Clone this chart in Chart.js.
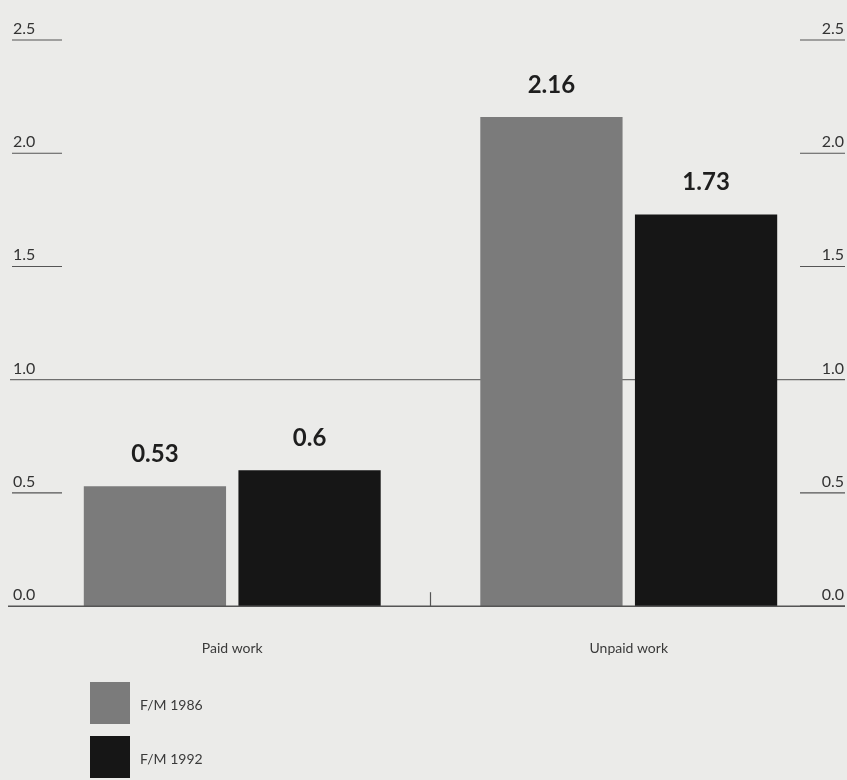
<!DOCTYPE html>
<html>
<head>
<meta charset="utf-8">
<script src="https://cdn.jsdelivr.net/npm/chart.js@4.4.1/dist/chart.umd.min.js"></script>
<style>
  html, body { margin: 0; padding: 0; background: #ebebe9; }
  #wrap { width: 847px; height: 780px; position: relative; }
</style>
</head>
<body>
<div id="wrap"><canvas id="c" width="847" height="780"></canvas></div>
<script>
const categories = ["Paid work", "Unpaid work"];
const seriesNames = ["F/M 1986", "F/M 1992"];
const values1986 = [0.53, 2.16];
const values1992 = [0.6, 1.73];
const valueLabels1986 = ["0.53", "2.16"];
const valueLabels1992 = ["0.6", "1.73"];
const tickValues = [0.0, 0.5, 1.0, 1.5, 2.0, 2.5];
const tickLabels = ["0.0", "0.5", "1.0", "1.5", "2.0", "2.5"];
const referenceValue = 1.0;

const colors = ["#7b7b7b", "#161616"];
const FONT = "Lato, 'Open Sans', sans-serif";

const decor = {
  id: "decor",
  beforeDatasetsDraw(chart) {
    const ctx = chart.ctx;
    const y = chart.scales.y;
    const py = y.getPixelForValue(referenceValue);
    ctx.save();
    ctx.strokeStyle = "#6e6e6e";
    ctx.lineWidth = 1.2;
    ctx.beginPath();
    ctx.moveTo(10, py);
    ctx.lineTo(800, py);
    ctx.stroke();
    ctx.restore();
  },
  afterDatasetsDraw(chart) {
    const ctx = chart.ctx;
    const x = chart.scales.x;
    const y = chart.scales.y;
    const base = y.getPixelForValue(0);
    ctx.save();
    // baseline
    ctx.strokeStyle = "#555";
    ctx.lineWidth = 1.5;
    ctx.beginPath();
    ctx.moveTo(8, base);
    ctx.lineTo(845, base);
    ctx.stroke();
    // divider tick between categories
    const mid = (x.getPixelForValue(0) + x.getPixelForValue(1)) / 2;
    ctx.lineWidth = 1.2;
    ctx.beginPath();
    ctx.moveTo(mid, base);
    ctx.lineTo(mid, base - 14);
    ctx.stroke();

    // tick labels with underlines, left and right
    ctx.fillStyle = "#333";
    ctx.font = "16px " + FONT;
    ctx.textBaseline = "alphabetic";
    tickValues.forEach((v, i) => {
      const py = y.getPixelForValue(v);
      ctx.strokeStyle = "#555";
      ctx.lineWidth = 1.2;
      // left
      ctx.textAlign = "left";
      ctx.fillText(tickLabels[i], 13, py - 6);
      if (v !== 0 && v !== referenceValue) {
        ctx.beginPath();
        ctx.moveTo(12, py);
        ctx.lineTo(62, py);
        ctx.stroke();
      }
      // right
      ctx.textAlign = "right";
      ctx.fillText(tickLabels[i], 844, py - 6);
      ctx.beginPath();
      ctx.moveTo(800, py);
      ctx.lineTo(845, py);
      ctx.stroke();
    });

    // value labels
    ctx.fillStyle = "#1e1e1e";
    ctx.font = "bold 24px " + FONT;
    ctx.textAlign = "center";
    const lbls = [valueLabels1986, valueLabels1992];
    chart.data.datasets.forEach((ds, di) => {
      const meta = chart.getDatasetMeta(di);
      meta.data.forEach((bar, j) => {
        ctx.fillText(lbls[di][j], bar.x, bar.y - 24);
      });
    });

    // legend
    ctx.font = "14px " + FONT;
    ctx.textAlign = "left";
    ctx.textBaseline = "middle";
    seriesNames.forEach((name, i) => {
      const top = 682 + i * 54;
      ctx.fillStyle = colors[i];
      ctx.fillRect(90, top, 40, 42);
      ctx.fillStyle = "#3a3a3a";
      ctx.fillText(name, 140, top + 23);
    });
    ctx.restore();
  }
};

new Chart(document.getElementById("c"), {
  type: "bar",
  data: {
    labels: categories,
    datasets: [
      { label: seriesNames[0], data: values1986, backgroundColor: colors[0], borderWidth: 0 },
      { label: seriesNames[1], data: values1992, backgroundColor: colors[1], borderWidth: 0 }
    ]
  },
  options: {
    responsive: false,
    animation: false,
    events: [],
    layout: { padding: { left: 34, right: 20, top: 40, bottom: 97 } },
    plugins: { legend: { display: false }, tooltip: { enabled: false } },
    datasets: { bar: { categoryPercentage: 0.78, barPercentage: 0.92 } },
    scales: {
      x: {
        grid: { display: false },
        border: { display: false },
        ticks: { color: "#3a3a3a", font: { family: FONT, size: 14 }, padding: 26 }
      },
      y: {
        display: false,
        min: 0,
        max: 2.5
      }
    }
  },
  plugins: [decor]
});
</script>
</body>
</html>
